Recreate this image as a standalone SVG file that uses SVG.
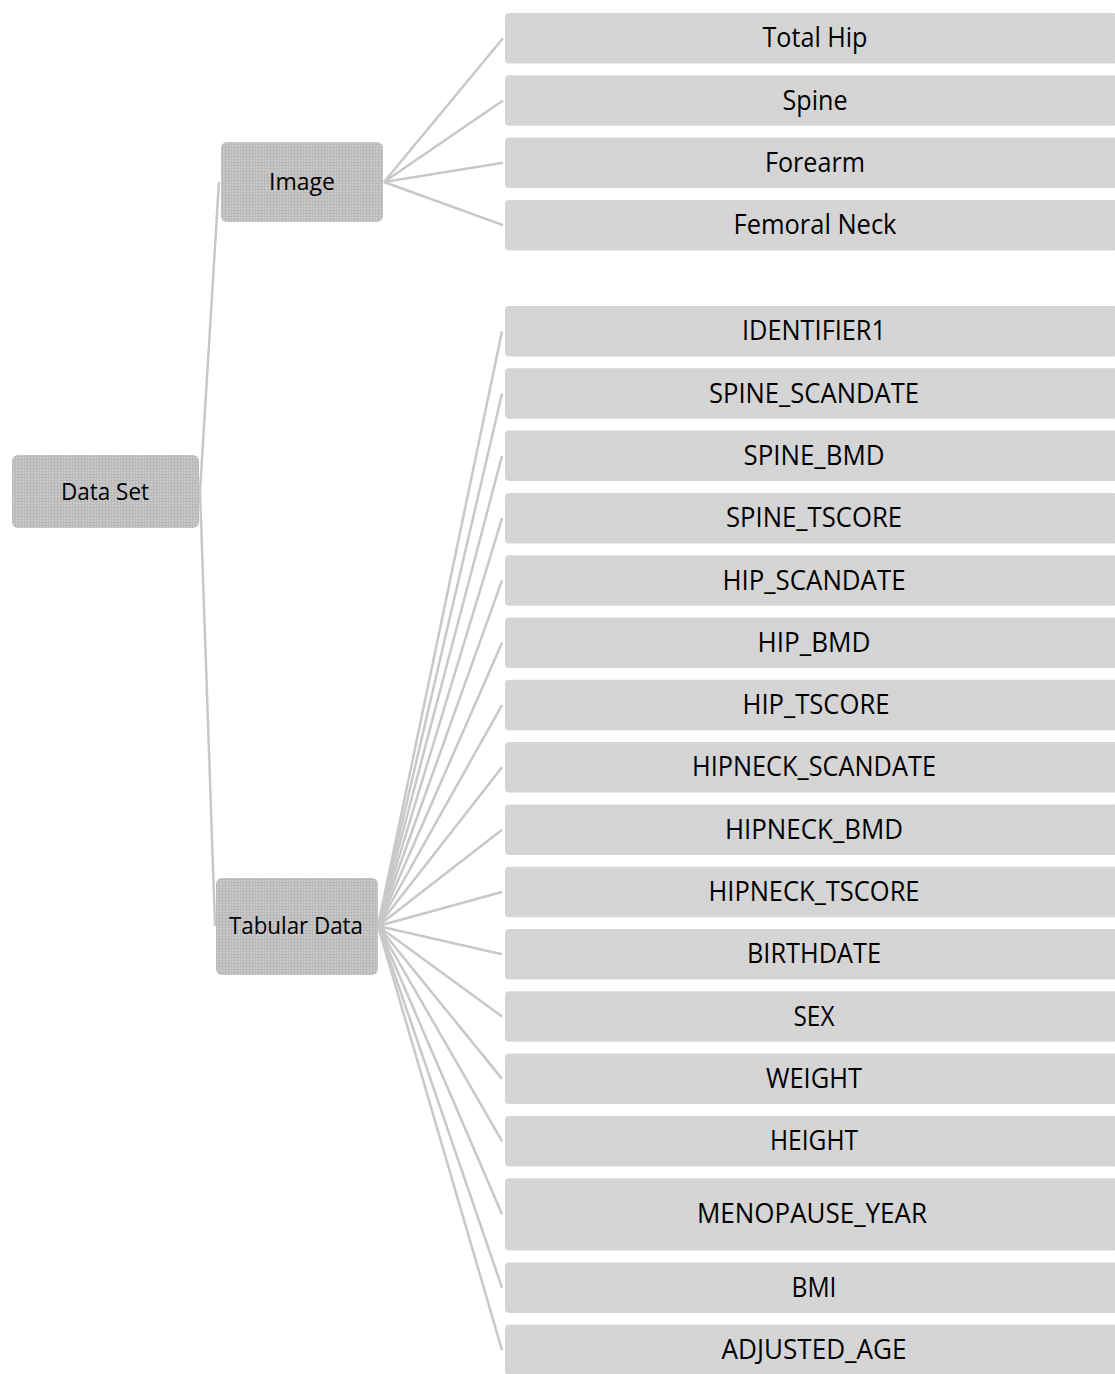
<svg xmlns="http://www.w3.org/2000/svg" width="1115" height="1374" viewBox="0 0 1115 1374">
<defs>
<pattern id="pp" width="3" height="3" patternUnits="userSpaceOnUse">
<rect width="3" height="3" fill="#c9c9c9"/>
<rect width="3" height="1" fill="#b9b9b9"/>
<rect width="1" height="3" fill="#b9b9b9"/>
</pattern>
<pattern id="lp" width="2" height="2" patternUnits="userSpaceOnUse">
<rect width="2" height="2" fill="#d7d7d7"/>
<rect width="1" height="1" fill="#d2d2d2"/>
<rect x="1" y="1" width="1" height="1" fill="#d2d2d2"/>
</pattern>
</defs>
<style>
.par{fill:url(#pp);}
.leaf{fill:url(#lp);}
.pt{font-family:"Open Sans","Liberation Sans",sans-serif;font-size:23px;fill:#000;text-anchor:middle;}
.lt{font-family:"Open Sans","Liberation Sans",sans-serif;font-size:27px;fill:#000;text-anchor:middle;}
.c line{stroke:#c8c8c8;stroke-width:2.5;fill:none;}
</style>
<rect width="1115" height="1374" fill="#ffffff"/>
<g id="connectors" class="c">
<line x1="200" y1="491" x2="219" y2="182"/>
<line x1="200" y1="491" x2="215" y2="926"/>
<line x1="384" y1="182" x2="503" y2="38.25"/>
<line x1="384" y1="182" x2="503" y2="100.55"/>
<line x1="384" y1="182" x2="503" y2="162.85"/>
<line x1="384" y1="182" x2="503" y2="225.15"/>
<line x1="378" y1="926" x2="502" y2="331.25"/>
<line x1="378" y1="926" x2="502" y2="393.55"/>
<line x1="378" y1="926" x2="502" y2="455.85"/>
<line x1="378" y1="926" x2="502" y2="518.15"/>
<line x1="378" y1="926" x2="502" y2="580.45"/>
<line x1="378" y1="926" x2="502" y2="642.75"/>
<line x1="378" y1="926" x2="502" y2="705.05"/>
<line x1="378" y1="926" x2="502" y2="767.35"/>
<line x1="378" y1="926" x2="502" y2="829.65"/>
<line x1="378" y1="926" x2="502" y2="891.95"/>
<line x1="378" y1="926" x2="502" y2="954.25"/>
<line x1="378" y1="926" x2="502" y2="1016.55"/>
<line x1="378" y1="926" x2="502" y2="1078.85"/>
<line x1="378" y1="926" x2="502" y2="1141.15"/>
<line x1="378" y1="926" x2="502" y2="1214.35"/>
<line x1="378" y1="926" x2="502" y2="1287.75"/>
<line x1="378" y1="926" x2="502" y2="1350.05"/>
</g>
<g id="n-dataset"><rect class="par" x="12" y="455" width="187" height="73" rx="6"/><text class="pt" x="105" y="499.5" textLength="88" lengthAdjust="spacingAndGlyphs">Data Set</text></g>
<g id="n-image"><rect class="par" x="221" y="142" width="162" height="80" rx="6"/><text class="pt" x="302" y="190" textLength="66" lengthAdjust="spacingAndGlyphs">Image</text></g>
<g id="n-tabular"><rect class="par" x="216" y="878" width="162" height="97" rx="6"/><text class="pt" x="296" y="933.5" textLength="134" lengthAdjust="spacingAndGlyphs">Tabular Data</text></g>
<g id="n-totalhip"><rect class="leaf" x="505" y="13" width="620" height="50.5" rx="4"/><text class="lt" x="815" y="47.3" textLength="105" lengthAdjust="spacingAndGlyphs">Total Hip</text></g>
<g id="n-spine"><rect class="leaf" x="505" y="75.3" width="620" height="50.5" rx="4"/><text class="lt" x="815" y="109.6" textLength="65" lengthAdjust="spacingAndGlyphs">Spine</text></g>
<g id="n-forearm"><rect class="leaf" x="505" y="137.6" width="620" height="50.5" rx="4"/><text class="lt" x="815" y="171.9" textLength="100" lengthAdjust="spacingAndGlyphs">Forearm</text></g>
<g id="n-femoralneck"><rect class="leaf" x="505" y="199.9" width="620" height="50.5" rx="4"/><text class="lt" x="815" y="234.2" textLength="163" lengthAdjust="spacingAndGlyphs">Femoral Neck</text></g>
<g id="n-identifier1"><rect class="leaf" x="505" y="306" width="620" height="50.5" rx="4"/><text class="lt" x="814" y="340.3" textLength="144" lengthAdjust="spacingAndGlyphs">IDENTIFIER1</text></g>
<g id="n-spine-scandate"><rect class="leaf" x="505" y="368.3" width="620" height="50.5" rx="4"/><text class="lt" x="814" y="402.6" textLength="210" lengthAdjust="spacingAndGlyphs">SPINE_SCANDATE</text></g>
<g id="n-spine-bmd"><rect class="leaf" x="505" y="430.6" width="620" height="50.5" rx="4"/><text class="lt" x="814" y="464.9" textLength="141" lengthAdjust="spacingAndGlyphs">SPINE_BMD</text></g>
<g id="n-spine-tscore"><rect class="leaf" x="505" y="492.9" width="620" height="50.5" rx="4"/><text class="lt" x="814" y="527.2" textLength="176" lengthAdjust="spacingAndGlyphs">SPINE_TSCORE</text></g>
<g id="n-hip-scandate"><rect class="leaf" x="505" y="555.2" width="620" height="50.5" rx="4"/><text class="lt" x="814" y="589.5" textLength="183" lengthAdjust="spacingAndGlyphs">HIP_SCANDATE</text></g>
<g id="n-hip-bmd"><rect class="leaf" x="505" y="617.5" width="620" height="50.5" rx="4"/><text class="lt" x="814" y="651.8" textLength="113" lengthAdjust="spacingAndGlyphs">HIP_BMD</text></g>
<g id="n-hip-tscore"><rect class="leaf" x="505" y="679.8" width="620" height="50.5" rx="4"/><text class="lt" x="816" y="714.1" textLength="147" lengthAdjust="spacingAndGlyphs">HIP_TSCORE</text></g>
<g id="n-hipneck-scandate"><rect class="leaf" x="505" y="742.1" width="620" height="50.5" rx="4"/><text class="lt" x="814" y="776.4" textLength="244" lengthAdjust="spacingAndGlyphs">HIPNECK_SCANDATE</text></g>
<g id="n-hipneck-bmd"><rect class="leaf" x="505" y="804.4" width="620" height="50.5" rx="4"/><text class="lt" x="814" y="838.7" textLength="178" lengthAdjust="spacingAndGlyphs">HIPNECK_BMD</text></g>
<g id="n-hipneck-tscore"><rect class="leaf" x="505" y="866.7" width="620" height="50.5" rx="4"/><text class="lt" x="814" y="901" textLength="211" lengthAdjust="spacingAndGlyphs">HIPNECK_TSCORE</text></g>
<g id="n-birthdate"><rect class="leaf" x="505" y="929" width="620" height="50.5" rx="4"/><text class="lt" x="814" y="963.3" textLength="134" lengthAdjust="spacingAndGlyphs">BIRTHDATE</text></g>
<g id="n-sex"><rect class="leaf" x="505" y="991.3" width="620" height="50.5" rx="4"/><text class="lt" x="814" y="1025.6" textLength="41" lengthAdjust="spacingAndGlyphs">SEX</text></g>
<g id="n-weight"><rect class="leaf" x="505" y="1053.6" width="620" height="50.5" rx="4"/><text class="lt" x="814" y="1087.9" textLength="96" lengthAdjust="spacingAndGlyphs">WEIGHT</text></g>
<g id="n-height"><rect class="leaf" x="505" y="1115.9" width="620" height="50.5" rx="4"/><text class="lt" x="814" y="1150.2" textLength="88" lengthAdjust="spacingAndGlyphs">HEIGHT</text></g>
<g id="n-menopause-year"><rect class="leaf" x="505" y="1178.2" width="620" height="72.3" rx="4"/><text class="lt" x="812" y="1223.4" textLength="230" lengthAdjust="spacingAndGlyphs">MENOPAUSE_YEAR</text></g>
<g id="n-bmi"><rect class="leaf" x="505" y="1262.5" width="620" height="50.5" rx="4"/><text class="lt" x="814" y="1296.8" textLength="45" lengthAdjust="spacingAndGlyphs">BMI</text></g>
<g id="n-adjusted-age"><rect class="leaf" x="505" y="1324.8" width="620" height="50.5" rx="4"/><text class="lt" x="814" y="1359.1" textLength="185" lengthAdjust="spacingAndGlyphs">ADJUSTED_AGE</text></g>
</svg>
